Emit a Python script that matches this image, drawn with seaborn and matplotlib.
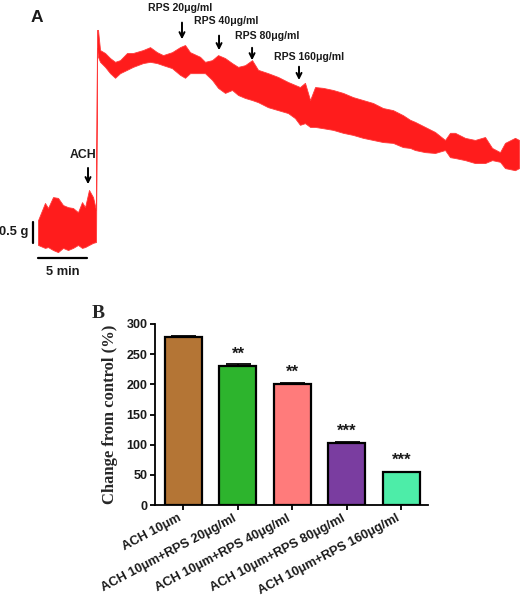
import matplotlib
matplotlib.use("Agg")
import matplotlib.pyplot as plt
import seaborn as sns

# ---- panel A: isometric tension trace (envelope read from the recording) ----
trace_min = [0.00, 0.71, 1.02, 1.53, 2.04, 2.55, 3.06, 3.57, 4.08, 4.49, 4.80,
             5.20, 5.61, 5.92, 6.02, 6.12, 6.33, 6.84, 7.35, 7.86, 8.37, 9.08,
             9.69, 10.71, 11.43, 12.14, 12.76, 13.67, 14.49, 15.00, 15.51,
             16.53, 17.04, 17.76, 18.37, 19.08, 19.80, 20.41, 21.12, 21.84,
             22.45, 23.47, 24.49, 25.51, 26.22, 26.73, 27.24, 27.76, 28.27,
             29.08, 30.10, 31.12, 32.14, 33.16, 34.18, 35.20, 36.22, 37.24,
             37.96, 38.47, 39.49, 40.51, 41.53, 42.04, 42.55, 43.57, 44.59,
             45.61, 46.33, 47.14, 47.65, 48.67, 49.08]
trace_upper_g = [0.71, 1.12, 1.00, 1.26, 1.24, 1.07, 1.02, 1.00, 0.90, 1.14, 1.02,
                 1.43, 1.26, 0.95, 5.24, 5.24, 4.76, 4.69, 4.57, 4.48, 4.52, 4.69,
                 4.69, 4.76, 4.83, 4.71, 4.64, 4.71, 4.83, 4.88, 4.71,
                 4.60, 4.48, 4.52, 4.64, 4.57, 4.45, 4.36, 4.40, 4.52,
                 4.29, 4.21, 4.12, 4.00, 3.93, 3.88, 3.98, 3.57, 3.88,
                 3.86, 3.81, 3.74, 3.64, 3.57, 3.50, 3.38, 3.33, 3.21,
                 3.10, 3.05, 2.93, 2.81, 2.62, 2.79, 2.79, 2.67, 2.62,
                 2.69, 2.43, 2.33, 2.55, 2.67, 2.62]
trace_lower_g = [0.12, 0.05, 0.07, 0.00, -0.05, 0.05, 0.00, 0.05, 0.12, 0.05, 0.07,
                 0.12, 0.17, 0.19, 4.80, 4.60, 4.48, 4.36, 4.21, 4.10, 4.21, 4.29,
                 4.36, 4.45, 4.48, 4.45, 4.40, 4.33, 4.17, 4.10, 4.21,
                 4.21, 4.21, 4.05, 3.86, 3.74, 3.81, 3.69, 3.62, 3.57,
                 3.52, 3.40, 3.33, 3.26, 3.14, 2.98, 3.02, 2.93, 2.93,
                 2.90, 2.86, 2.79, 2.74, 2.67, 2.62, 2.57, 2.55, 2.45,
                 2.43, 2.38, 2.33, 2.31, 2.38, 2.21, 2.19, 2.14, 2.07,
                 2.07, 2.14, 2.10, 1.95, 1.90, 1.95]

event_labels = ["ACH", "RPS 20μg/ml", "RPS 40μg/ml", "RPS 80μg/ml", "RPS 160μg/ml"]
event_min = [5.10, 14.69, 18.47, 21.84, 26.63]

# ---- panel B: change from control ----
groups = ["ACH 10μm", "ACH 10μm+RPS 20μg/ml", "ACH 10μm+RPS 40μg/ml",
          "ACH 10μm+RPS 80μg/ml", "ACH 10μm+RPS 160μg/ml"]
change_pct = [279, 231, 200, 102, 54]
sem_pct = [1.5, 2.0, 1.5, 2.0, 1.5]
stars = ["", "**", "**", "***", "***"]
bar_colors = ["#B47535", "#2DB42D", "#FF7B7B", "#7A3DA0", "#4DEDA8"]

sns.set_theme(style="white")
plt.rcParams["font.family"] = ["Liberation Sans", "DejaVu Sans"]
plt.rcParams["font.weight"] = "bold"

fig = plt.figure(figsize=(5.2, 6.12), dpi=100)

# ---------------- panel A ----------------
axA = fig.add_axes([0, 1 - 280 / 612, 1, 280 / 612])
axA.fill_between(trace_min, trace_lower_g, trace_upper_g, color="#FF1C1C",
                 edgecolor="#FF3A3A", linewidth=0.6)
axA.set_xlim(-3.88, 49.18)
axA.set_ylim(-0.714, 5.952)
axA.axis("off")

# arrow geometry (tail, tip, text position) in data units
arrow_tail = [2.02, 5.48, 5.17, 4.88, 4.43]
arrow_tip = [1.50, 4.95, 4.69, 4.45, 3.98]
text_x = [4.59, 14.5, 19.18, 23.4, 27.7]
text_y = [2.26, 5.76, 5.45, 5.10, 4.60]
for i, lab in enumerate(event_labels):
    axA.annotate("", xy=(event_min[i], arrow_tip[i]), xytext=(event_min[i], arrow_tail[i]),
                 arrowprops=dict(arrowstyle="->", color="black", lw=1.4, mutation_scale=9))
    axA.text(text_x[i], text_y[i], lab, ha="center", va="center", fontweight="bold",
             fontsize=8.8 if i == 0 else 7.6, color="#1a1a1a")

# scale bars
axA.plot([-0.51, -0.51], [0.17, 0.67], color="black", lw=1.6)
axA.text(-0.95, 0.42, "0.5 g", ha="right", va="center", fontweight="bold",
         fontsize=9.3, color="#1a1a1a")
axA.plot([0, 5], [-0.19, -0.19], color="black", lw=1.6)
axA.text(2.5, -0.52, "5 min", ha="center", va="center", fontweight="bold",
         fontsize=9.3, color="#1a1a1a")
fig.text(37 / 520, 1 - 17 / 612, "A", ha="center", va="center", fontweight="bold",
         fontsize=12.5, color="#1a1a1a")

# ---------------- panel B ----------------
axB = fig.add_axes([155 / 520, 1 - 505 / 612, 273 / 520, 181 / 612])
sns.barplot(x=groups, y=change_pct, hue=groups, palette=bar_colors, legend=False,
            width=0.68, edgecolor="black", linewidth=1.6, saturation=1, ax=axB)
axB.errorbar(range(len(groups)), change_pct, yerr=[[0] * len(groups), sem_pct],
             fmt="none", ecolor="black", elinewidth=1.3, capsize=9, capthick=1.3)
for i, s in enumerate(stars):
    if s:
        axB.text(i, change_pct[i] + 7, s, ha="center", va="bottom", fontsize=12,
                 fontweight="bold", color="#1a1a1a")

axB.set_xlim(-0.523, 4.49)
axB.set_ylim(0, 300)
axB.set_yticks([0, 50, 100, 150, 200, 250, 300])
axB.set_yticklabels(["0", "50", "100", "150", "200", "250", "300"], fontweight="bold")
for side in ["top", "right"]:
    axB.spines[side].set_visible(False)
for side in ["left", "bottom"]:
    axB.spines[side].set_linewidth(1.3)
    axB.spines[side].set_color("black")
axB.tick_params(axis="both", direction="out", length=3.8, width=1.3, color="black",
                bottom=True, left=True, labelsize=9, pad=1.5, labelcolor="#1a1a1a")
axB.set_xticks(range(len(groups)))
axB.set_xticklabels(groups, rotation=28, ha="right", fontweight="bold", fontsize=9.3)
axB.set_xlabel("")
axB.set_ylabel("Change from control (%)", family=["Liberation Serif", "DejaVu Serif"],
               fontweight="bold", fontsize=12, labelpad=6)
fig.text(98 / 520, 1 - 314 / 612, "B", ha="center", va="center", fontweight="bold",
         family=["Liberation Serif", "DejaVu Serif"], fontsize=14)

fig.savefig("out.png", dpi=100)
